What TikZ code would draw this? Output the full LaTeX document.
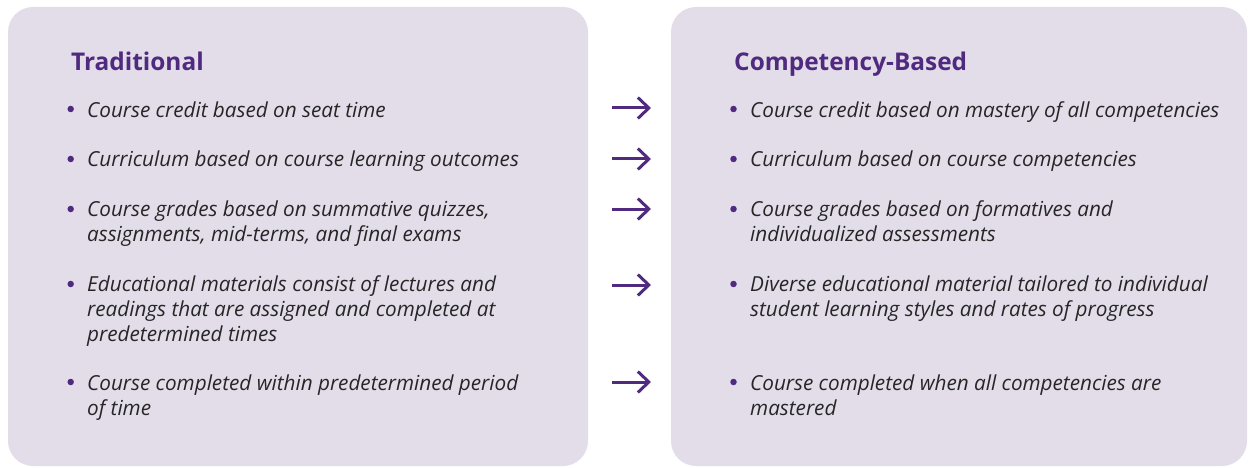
\documentclass[tikz,border=0pt]{standalone}
\usepackage{fontspec}
\setmainfont{Open Sans}
\usetikzlibrary{arrows.meta}

\definecolor{panelfill}{HTML}{E3DDEA}
\definecolor{cbepurple}{HTML}{4F2A7F}
\definecolor{bodytext}{HTML}{262626}

\tikzset{
  panel/.style={fill=panelfill, draw=none, rounded corners=25pt},
  heading/.style={anchor=base west, inner sep=0pt, text=cbepurple, font=\bfseries\fontsize{24.4}{28}\selectfont},
  % placed at the baseline of the first line
  itemtext/.style={anchor=north west, yshift=17.36pt, inner sep=0pt, align=left, text=bodytext,
    font=\itshape\fontsize{20.7}{24.8}\selectfont, execute at begin node=\strut},
  bulletdot/.style={circle, fill=cbepurple, inner sep=0pt, minimum size=6.5pt},
  shiftarrow/.style={cbepurple, line width=3pt, -{Straight Barb[length=11pt,width=21pt]}}
}

\begin{document}
\begin{tikzpicture}[x=1pt, y=-1pt]
    \useasboundingbox (0,0) rectangle (1248,468);

    % Two panels
    \draw[panel] (8,7) rectangle (588,466);
    \draw[panel] (671,7) rectangle (1247,466);

    \node[heading] (trad) at (71,71) {Traditional};
    \node[heading] (comp) at (734,71) {Competency-Based};

    % Traditional column
    \node[bulletdot] (tb1) at (70.7,109) {};
    \node[bulletdot] (tb2) at (70.7,159) {};
    \node[bulletdot] (tb3) at (70.7,209) {};
    \node[bulletdot] (tb4) at (70.7,284) {};
    \node[bulletdot] (tb5) at (70.7,382) {};
    \node[itemtext] (t1) at (87,117) {Course credit based on seat time};
    \node[itemtext] (t2) at (87,166.5) {Curriculum based on course learning outcomes};
    \node[itemtext] (t3) at (87,218) {Course grades based on summative quizzes,\\assignments, mid-terms, and final exams};
    \node[itemtext] (t4) at (87,293) {Educational materials consist of lectures and\\readings that are assigned and completed at\\predetermined times};
    \node[itemtext] (t5) at (87,392) {Course completed within predetermined period\\of time};

    % Competency-based column
    \node[bulletdot] (cb1) at (733.5,109) {};
    \node[bulletdot] (cb2) at (733.5,159) {};
    \node[bulletdot] (cb3) at (733.5,209) {};
    \node[bulletdot] (cb4) at (733.5,284) {};
    \node[bulletdot] (cb5) at (733.5,382) {};
    \node[itemtext] (c1) at (750,117) {Course credit based on mastery of all competencies};
    \node[itemtext] (c2) at (750,166.5) {Curriculum based on course competencies};
    \node[itemtext] (c3) at (750,218) {Course grades based on formatives and\\individualized assessments};
    \node[itemtext] (c4) at (750,293) {Diverse educational material tailored to individual\\student learning styles and rates of progress};
    \node[itemtext] (c5) at (750,392) {Course completed when all competencies are\\mastered};

    % Arrows between the columns
    \foreach \row/\y in {1/108, 2/159, 3/209, 4/285, 5/382} {
        \coordinate (from\row) at (612,\y);
        \coordinate (to\row) at (651,\y);
        \draw[shiftarrow] (from\row) -- (to\row);
    }
\end{tikzpicture}
\end{document}
